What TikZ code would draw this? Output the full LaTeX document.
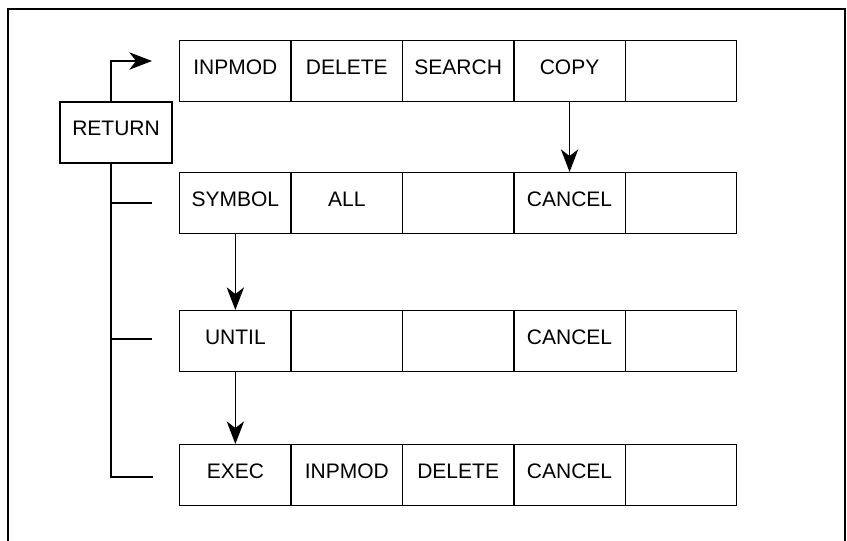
\documentclass[tikz,border=0pt]{standalone}
\usepackage{fontspec}
\setmainfont{Liberation Sans}
\usetikzlibrary{arrows.meta}
\tikzset{
  cell/.style={draw, line width=1pt, rectangle, inner sep=0pt, anchor=north west,
    minimum width=83.55pt, minimum height=45.4pt,
    font=\fontsize{15.75pt}{18pt}\selectfont, text height=11.25pt, text depth=5.25pt},
  retbox/.style={cell, anchor=center, minimum width=84pt, minimum height=45.75pt, text depth=7.5pt},
  link/.style={line width=1pt},
  arr/.style={line width=1pt, -{Stealth[length=17pt, width=13pt, inset=5pt]}},
  frame/.style={line width=1.6pt, line cap=rect}
}
\begin{document}
\begin{tikzpicture}[x=0.75pt, y=-0.75pt]
\useasboundingbox (0,0) rectangle (847,540);
\fill[white] (0,0) rectangle (847,540);
\draw[frame] (8,560) -- (8,9) -- (845,9) -- (845,560);
% rows
\foreach \r/\top in {1/40, 2/172, 3/310, 4/444}{
  \foreach \c in {1,...,5}{
    \node[cell] (r\r c\c) at ({179+(\c-1)*111.4}, \top) {};
  }
}
\foreach \r/\c/\t in {1/1/INPMOD, 1/2/DELETE, 1/3/SEARCH, 1/4/COPY,
  2/1/SYMBOL, 2/2/ALL, 2/4/CANCEL,
  3/1/UNTIL, 3/4/CANCEL,
  4/1/EXEC, 4/2/INPMOD, 4/3/DELETE, 4/4/CANCEL}{
  \node[cell, draw=none, anchor=center, fill=none] (lab\r\c) at (r\r c\c.center) {\t};
}
\node[retbox] (ret) at (116,132.5) {RETURN};
% left bus
\coordinate (v) at (111,0);
\coordinate (a1) at (152,61);
\coordinate (t2) at (152,203);
\coordinate (t3) at (152,339);
\coordinate (t4) at (153,477);
\draw[arr] (ret.north -| v) |- (a1);
\draw[link] (ret.south -| v) |- (t4);
\draw[link] (v |- t2) -- (t2);
\draw[link] (v |- t3) -- (t3);
% arrows between rows
\draw[arr] (r1c4.south) -- (r2c4.north);
\draw[arr] (r2c1.south) -- (r3c1.north);
\draw[arr] (r3c1.south) -- (r4c1.north);
\end{tikzpicture}
\end{document}
